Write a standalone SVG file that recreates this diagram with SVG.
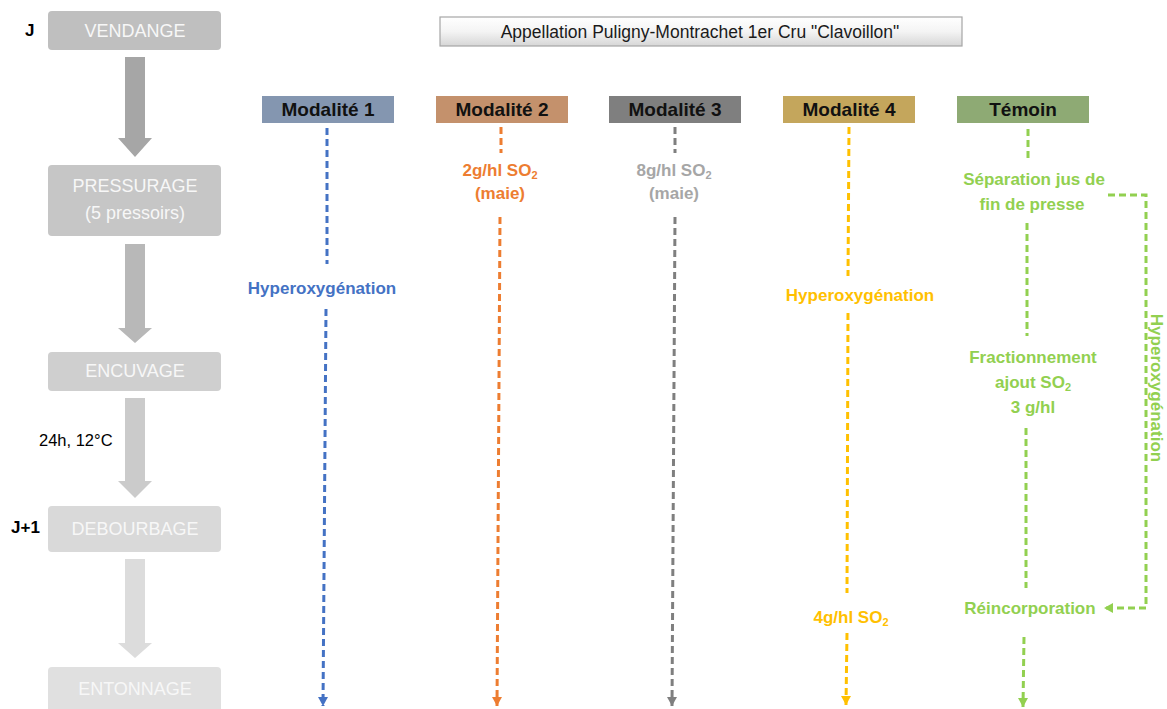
<svg xmlns="http://www.w3.org/2000/svg" width="1167" height="709" viewBox="0 0 1167 709">
<defs>
<linearGradient id="tg" x1="0" y1="0" x2="0" y2="1">
<stop offset="0" stop-color="#ffffff"/>
<stop offset="0.5" stop-color="#f4f4f4"/>
<stop offset="1" stop-color="#d6d6d6"/>
</linearGradient>
<marker id="mb" markerWidth="10" markerHeight="9" refX="5" refY="9" orient="0" markerUnits="userSpaceOnUse" viewBox="0 0 10 9"><path d="M0 0 H10 L5 9 Z" fill="#4472c4"/></marker>
<marker id="mo" markerWidth="10" markerHeight="9" refX="5" refY="9" orient="0" markerUnits="userSpaceOnUse" viewBox="0 0 10 9"><path d="M0 0 H10 L5 9 Z" fill="#ed7d31"/></marker>
<marker id="mg" markerWidth="10" markerHeight="9" refX="5" refY="9" orient="0" markerUnits="userSpaceOnUse" viewBox="0 0 10 9"><path d="M0 0 H10 L5 9 Z" fill="#7f7f7f"/></marker>
<marker id="my" markerWidth="10" markerHeight="9" refX="5" refY="9" orient="0" markerUnits="userSpaceOnUse" viewBox="0 0 10 9"><path d="M0 0 H10 L5 9 Z" fill="#ffc000"/></marker>
<marker id="mv" markerWidth="10" markerHeight="9" refX="5" refY="9" orient="0" markerUnits="userSpaceOnUse" viewBox="0 0 10 9"><path d="M0 0 H10 L5 9 Z" fill="#92d050"/></marker>
<marker id="mvl" markerWidth="9" markerHeight="10" refX="0" refY="5" orient="0" markerUnits="userSpaceOnUse" viewBox="0 0 9 10"><path d="M9 0 V10 L0 5 Z" fill="#92d050"/></marker>
</defs>
<style>
text{font-family:"Liberation Sans",Arial,sans-serif}
.step{font-size:18px;fill:#f7f7f7;text-anchor:middle}
.side{font-size:17px;font-weight:bold;fill:#000}
.hdr{font-size:19px;font-weight:bold;fill:#111;text-anchor:middle}
.lbl{font-size:17px;font-weight:bold;text-anchor:middle}
.d{fill:none;stroke-width:3;stroke-dasharray:7 4}
.sub{font-size:11px}
</style>

<g id="timeline">
<g id="vendange"><rect x="48" y="11" width="173" height="39" rx="4" fill="#bfbfbf"/><text class="step" x="135" y="37">VENDANGE</text></g>
<g id="pressurage"><rect x="48" y="165" width="173" height="71" rx="4" fill="#c6c6c6"/><text class="step" x="135" y="192">PRESSURAGE</text><text class="step" x="135" y="219">(5 pressoirs)</text></g>
<g id="encuvage"><rect x="48" y="352" width="173" height="39" rx="4" fill="#cfcfcf"/><text class="step" x="135" y="377">ENCUVAGE</text></g>
<g id="debourbage"><rect x="48" y="506" width="173" height="46" rx="4" fill="#d9d9d9"/><text class="step" x="135" y="535">DEBOURBAGE</text></g>
<g id="entonnage"><rect x="48" y="667" width="173" height="50" rx="4" fill="#e0e0e0"/><text class="step" x="135" y="695">ENTONNAGE</text></g>
<path d="M125 57 H145 V138 H152 L135 157 L118 138 H125 Z" fill="#a6a6a6"/>
<path d="M125 244 H145 V328 H152 L135 343 L118 328 H125 Z" fill="#b8b8b8"/>
<path d="M125 398 H145 V481 H152 L135 498 L118 481 H125 Z" fill="#cbcbcb"/>
<path d="M125 559 H145 V643 H152 L135 658 L118 643 H125 Z" fill="#dcdcdc"/>
<text class="side" x="25" y="36">J</text>
<text class="side" x="11" y="533">J+1</text>
<text x="39" y="446" font-size="16.5" fill="#000">24h, 12°C</text>
</g>

<g id="title"><rect x="440" y="17" width="522" height="29" fill="url(#tg)" stroke="#a6a6a6" stroke-width="1.2"/><text x="700" y="38" font-size="17.5" fill="#1a1a1a" text-anchor="middle">Appellation Puligny-Montrachet 1er Cru "Clavoillon"</text></g>

<g id="modalite1"><rect x="262" y="96" width="132" height="27" fill="#8496b0"/><text class="hdr" x="328" y="116">Modalité 1</text>
<text class="lbl" x="322" y="294" fill="#4472c4">Hyperoxygénation</text></g>
<g id="modalite2"><rect x="436" y="96" width="132" height="27" fill="#c4916c"/><text class="hdr" x="502" y="116">Modalité 2</text>
<text class="lbl" x="500" y="176" fill="#ed7d31">2g/hl SO<tspan class="sub" dy="3">2</tspan></text>
<text class="lbl" x="500" y="199" fill="#ed7d31">(maie)</text></g>
<g id="modalite3"><rect x="609" y="96" width="132" height="27" fill="#7f7f7f"/><text class="hdr" x="675" y="116">Modalité 3</text>
<text class="lbl" x="674" y="176" fill="#a6a6a6" font-weight="normal">8g/hl SO<tspan class="sub" dy="3">2</tspan></text>
<text class="lbl" x="674" y="199" fill="#a6a6a6" font-weight="normal">(maie)</text></g>
<g id="modalite4"><rect x="783" y="96" width="132" height="27" fill="#c4a65c"/><text class="hdr" x="849" y="116">Modalité 4</text>
<text class="lbl" x="860" y="301" fill="#ffc000">Hyperoxygénation</text>
<text class="lbl" x="851" y="623" fill="#ffc000">4g/hl SO<tspan class="sub" dy="3">2</tspan></text></g>
<g id="temoin"><rect x="957" y="96" width="132" height="27" fill="#8eaa74"/><text class="hdr" x="1023" y="116">Témoin</text>
<text class="lbl" x="1034" y="185" fill="#92d050">Séparation jus de</text>
<text class="lbl" x="1032" y="210" fill="#92d050">fin de presse</text>
<text class="lbl" x="1033" y="363" fill="#92d050">Fractionnement</text>
<text class="lbl" x="1033" y="388" fill="#92d050">ajout SO<tspan class="sub" dy="3">2</tspan></text>
<text class="lbl" x="1033" y="413" fill="#92d050">3 g/hl</text>
<text class="lbl" x="1030" y="614" fill="#92d050">Réincorporation</text>
<text class="lbl" transform="translate(1151 388) rotate(90)" x="0" y="0" fill="#92d050">Hyperoxygénation</text></g>

<g id="connectors">
<path class="d" stroke="#4472c4" d="M327 128 V264"/>
<path class="d" stroke="#4472c4" d="M326 309 L323 706" marker-end="url(#mb)"/>
<path class="d" stroke="#ed7d31" d="M501 127 V153"/>
<path class="d" stroke="#ed7d31" d="M500 217 L497 706" marker-end="url(#mo)"/>
<path class="d" stroke="#7f7f7f" d="M675 127 V153"/>
<path class="d" stroke="#7f7f7f" d="M675 217 L672 706" marker-end="url(#mg)"/>
<path class="d" stroke="#ffc000" d="M849 127 L848 276"/>
<path class="d" stroke="#ffc000" d="M848 313 L847 593"/>
<path class="d" stroke="#ffc000" d="M847 633 L846 705" marker-end="url(#my)"/>
<path class="d" stroke="#92d050" d="M1028 129 V158"/>
<path class="d" stroke="#92d050" d="M1027 223 V336"/>
<path class="d" stroke="#92d050" d="M1026 428 V588"/>
<path class="d" stroke="#92d050" d="M1024 637 L1023 707" marker-end="url(#mv)"/>
<path class="d" stroke="#92d050" d="M1108 195 H1146 V608 H1104" marker-end="url(#mvl)"/>
</g>
</svg>
